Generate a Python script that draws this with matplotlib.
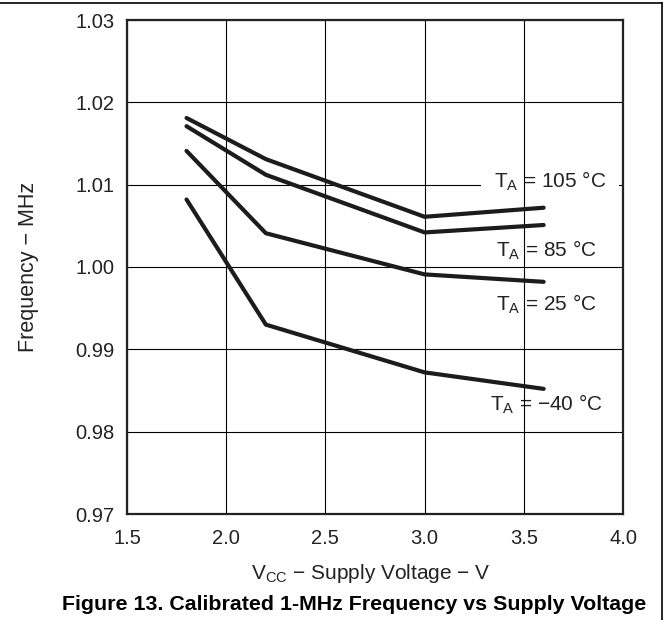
import matplotlib
matplotlib.use("Agg")
import matplotlib.pyplot as plt
from matplotlib.lines import Line2D

plt.rcParams['font.family'] = ['Liberation Sans', 'DejaVu Sans']
plt.rcParams['mathtext.fontset'] = 'custom'
plt.rcParams['mathtext.rm'] = 'Liberation Sans'

# supply voltage (V)
vcc = [1.8, 2.2, 3.0, 3.6]

# frequency (MHz) per temperature
f_105 = [1.0181, 1.0131, 1.0061, 1.0072]
f_85 = [1.0171, 1.0112, 1.0042, 1.0051]
f_25 = [1.0141, 1.0041, 0.9991, 0.9982]
f_m40 = [1.0082, 0.9930, 0.9872, 0.9852]

labels = [r'$\mathrm{T_A}$ = 105 °C', r'$\mathrm{T_A}$ = 85 °C',
          r'$\mathrm{T_A}$ = 25 °C', r'$\mathrm{T_A}$ = −40 °C']
label_x = [3.632, 3.615, 3.615, 3.615]
label_y = [1.0104, 1.0020, 0.9955, 0.9833]

xticks = [1.5, 2.0, 2.5, 3.0, 3.5, 4.0]
yticks = [0.97, 0.98, 0.99, 1.00, 1.01, 1.02, 1.03]

fig = plt.figure(figsize=(6.68, 6.20), dpi=100)
ax = fig.add_axes([127 / 668, 106 / 620, 496 / 668, 494 / 620])

line_color = '#1c1c1c'
for f in [f_105, f_85, f_25, f_m40]:
    ax.plot(vcc, f, color=line_color, lw=3, solid_capstyle='round',
            solid_joinstyle='round', zorder=3)

for i in range(len(labels)):
    t = ax.text(label_x[i], label_y[i], labels[i], ha='center', va='center',
                fontsize=15, color='#222222', zorder=2)
    if i == 0:
        t.set_bbox(dict(facecolor='white', edgecolor='none', pad=9))

ax.set_xlim(1.5, 4.0)
ax.set_ylim(0.97, 1.03)
ax.set_xticks(xticks)
ax.set_yticks(yticks)
ax.set_xticklabels(['%.1f' % x for x in xticks])
ax.set_yticklabels(['%.2f' % y for y in yticks])
ax.tick_params(length=0, labelsize=14.5, colors='#222222')
ax.tick_params(axis='x', pad=11)
ax.tick_params(axis='y', pad=9)

ax.grid(True, color='black', lw=0.8)
# vertical grid above label box, horizontal below it
ax.xaxis.set_zorder(2.5)
ax.yaxis.set_zorder(0.5)

for s in ax.spines.values():
    s.set_linewidth(1.6)
    s.set_color('#222222')
    s.set_zorder(4)

ax.set_xlabel(r'V$_\mathrm{CC}$ − Supply Voltage − V', fontsize=15,
              color='#222222')
ax.xaxis.set_label_coords((371 - 127) / 496, -(562 - 514) / 494)
ax.set_ylabel('Frequency − MHz', fontsize=15.5, color='#222222')
ax.yaxis.set_label_coords(-(127 - 39) / 496, 0.5)

fig.text(354 / 668, 1 - 604 / 620,
         'Figure 13. Calibrated 1-MHz Frequency vs Supply Voltage',
         ha='center', va='center', fontsize=15.4, fontweight='bold')

# page frame
fig.add_artist(Line2D([0, 662 / 668], [1 - 3 / 620, 1 - 3 / 620],
                      transform=fig.transFigure, color='black', lw=1.2))
fig.add_artist(Line2D([662 / 668, 662 / 668], [0, 1 - 3 / 620],
                      transform=fig.transFigure, color='black', lw=1.2))

fig.savefig('out.png', dpi=100)
